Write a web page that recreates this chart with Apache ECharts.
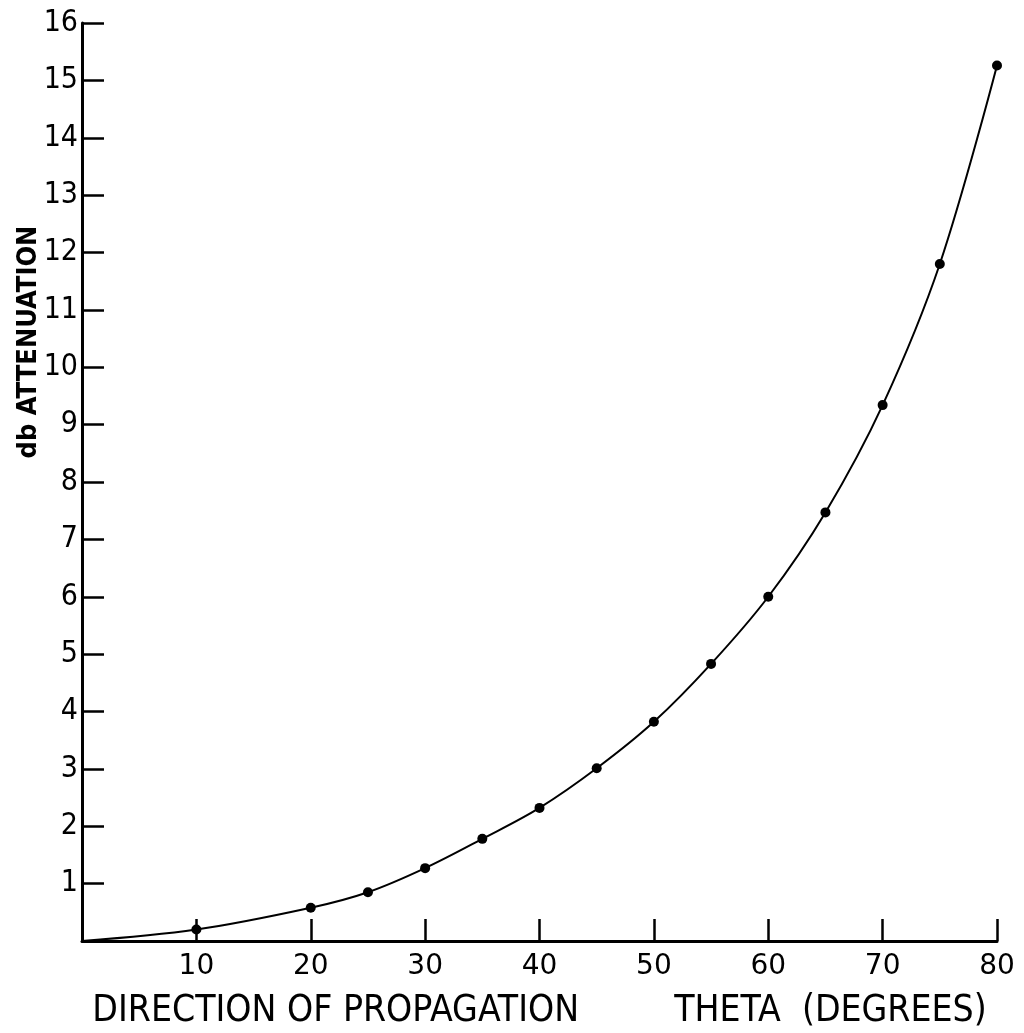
<!DOCTYPE html>
<html>
<head>
<meta charset="utf-8">
<script src="https://cdn.jsdelivr.net/npm/echarts@6/dist/echarts.min.js"></script>
<style>
html,body{margin:0;padding:0;background:#fff;}
#chart{width:1024px;height:1033px;}
</style>
</head>
<body>
<div id="chart"></div>
<script>
// Data
var thetaDeg = [10, 20, 25, 30, 35, 40, 45, 50, 55, 60, 65, 70, 75, 80];
var dbAttenuation = [0.2, 0.58, 0.85, 1.27, 1.78, 2.32, 3.01, 3.82, 4.83, 6.0, 7.47, 9.34, 11.8, 15.26];
var curveStart = [0, 0];
var xTitle = 'DIRECTION OF PROPAGATION         THETA  (DEGREES)';
var yTitle = 'db ATTENUATION';

var FONT = '"DejaVu Sans Condensed", "Liberation Sans Narrow", "DejaVu Sans", sans-serif';
var FONT_WIDE = '"DejaVu Sans", sans-serif';

var pts = [{value: curveStart, symbolSize: 0}];
for (var i = 0; i < thetaDeg.length; i++) pts.push([thetaDeg[i], dbAttenuation[i]]);

var chart = echarts.init(document.getElementById('chart'), null, {renderer: 'canvas'});
chart.setOption({
  animation: false,
  backgroundColor: '#fff',
  grid: {left: 82, right: 27, top: 23, bottom: 92, containLabel: false, outerBoundsMode: 'none'},
  xAxis: {
    type: 'value', min: 0, max: 80, interval: 10,
    name: xTitle, nameLocation: 'middle', nameGap: 52,
    nameTextStyle: {color: '#000', fontSize: 37, fontFamily: FONT},
    axisLine: {show: true, onZero: false, lineStyle: {color: '#000', width: 3}},
    axisTick: {show: true, inside: true, length: 22, lineStyle: {color: '#000', width: 2.5}},
    axisLabel: {color: '#000', fontSize: 28, fontFamily: FONT_WIDE, margin: 12,
      formatter: function (v) { return v === 0 ? '' : String(v); }},
    splitLine: {show: false}
  },
  yAxis: {
    type: 'value', min: 0, max: 16, interval: 1,
    axisLine: {show: true, onZero: false, lineStyle: {color: '#000', width: 3}},
    axisTick: {show: true, inside: true, length: 22, lineStyle: {color: '#000', width: 2.5}},
    axisLabel: {color: '#000', fontSize: 30, fontFamily: FONT, margin: 4,
      formatter: function (v) { return v === 0 ? '' : String(v); }},
    splitLine: {show: false}
  },
  graphic: [{
    type: 'text',
    x: 29, y: 342,
    rotation: Math.PI / 2,
    style: {text: yTitle, fill: '#000', font: 'bold 27px ' + FONT, align: 'center', verticalAlign: 'middle'}
  }],
  series: [{
    type: 'line',
    data: pts,
    smooth: 0.35,
    symbol: 'circle',
    symbolSize: 10,
    itemStyle: {color: '#000'},
    lineStyle: {color: '#000', width: 2}
  }]
});
</script>
</body>
</html>
